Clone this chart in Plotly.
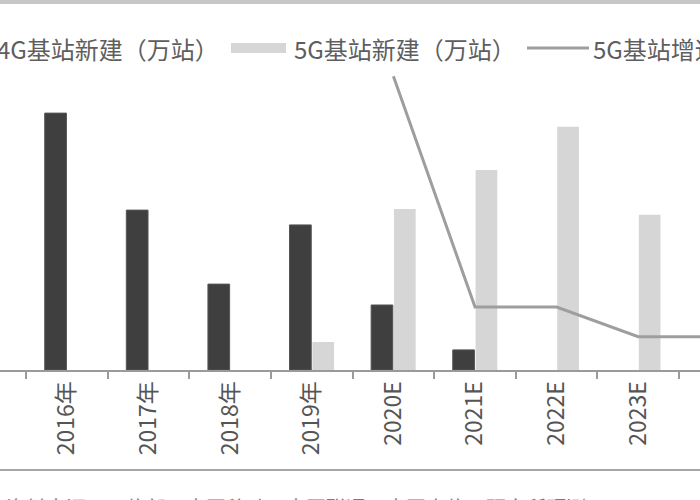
import plotly.graph_objects as go

# ---- data ----
categories = ["2016年", "2017年", "2018年", "2019年", "2020E", "2021E", "2022E", "2023E", "2024E"]
new_4g = [97.2, 60.5, 32.5, 54.9, 24.6, 7.6, None, None, None]          # 万站
new_5g = [None, None, None, 10.6, 60.9, 75.7, 92.0, 58.7, None]          # 万站
growth_cats = ["2020E", "2021E", "2022E", "2023E", "2024E"]
growth_5g = [397, 85, 85, 45, 45]                                        # %

legend_4g = "4G基站新建（万站）"
legend_5g = "5G基站新建（万站）"
legend_gr = "5G基站增速"
source_text = "资料来源：工信部，中国移动，中国联通，中国电信，研究所预测"

# ---- layout constants ----
W, H = 700, 500
PLOT_BOTTOM = 370  # pixel row of the x axis line
FONT = "Noto Sans CJK SC"
C4G = "#3f3f3f"
C5G = "#d6d6d6"
CLINE = "#9e9e9e"


def px_x(p):
    return p / W


def px_y(p):
    return (PLOT_BOTTOM - p) / PLOT_BOTTOM


fig = go.Figure()
fig.add_trace(go.Bar(x=categories, y=new_4g, name=legend_4g,
                     marker=dict(color=C4G, line=dict(color="#555555", width=1))))
fig.add_trace(go.Bar(x=categories, y=new_5g, name=legend_5g,
                     marker=dict(color=C5G, line=dict(width=0))))
fig.add_trace(go.Scatter(x=growth_cats, y=growth_5g, name=legend_gr, mode="lines",
                         line=dict(color=CLINE, width=3), yaxis="y2"))

shapes = [
    # top rule
    dict(type="rect", xref="paper", yref="paper", x0=0, x1=1, y0=px_y(4), y1=px_y(0),
         fillcolor="#c6c6c6", line=dict(width=0), layer="above"),
    # bottom rule
    dict(type="line", xref="paper", yref="paper", x0=0, x1=1, y0=px_y(470), y1=px_y(470),
         line=dict(color="#a6a6a6", width=2)),
    # legend symbols
    dict(type="rect", xref="paper", yref="paper", x0=px_x(231), x1=px_x(286),
         y0=px_y(53), y1=px_y(43), fillcolor=C5G, line=dict(width=0)),
    dict(type="line", xref="paper", yref="paper", x0=px_x(527), x1=px_x(589),
         y0=px_y(48), y1=px_y(48), line=dict(color=CLINE, width=3)),
]

LEG_FONT = dict(family=FONT, size=24, color="#5e5e5e")
annotations = [
    dict(text=legend_4g, x=px_x(-5), y=px_y(48), xref="paper", yref="paper",
         xanchor="left", yanchor="middle", showarrow=False, font=LEG_FONT),
    dict(text=legend_5g, x=px_x(292), y=px_y(48), xref="paper", yref="paper",
         xanchor="left", yanchor="middle", showarrow=False, font=LEG_FONT),
    dict(text=legend_gr, x=px_x(591), y=px_y(48), xref="paper", yref="paper",
         xanchor="left", yanchor="middle", showarrow=False, font=LEG_FONT),
    dict(text=source_text, x=px_x(4), y=px_y(491), xref="paper", yref="paper",
         xanchor="left", yanchor="top", showarrow=False,
         font=dict(family=FONT, size=20, color="#7a7a7a")),
]

fig.update_layout(
    width=W, height=H,
    margin=dict(l=0, r=0, t=0, b=H - PLOT_BOTTOM, pad=0, autoexpand=False),
    paper_bgcolor="white", plot_bgcolor="white",
    barmode="group", bargap=0.44, bargroupgap=0.05,
    showlegend=False,
    xaxis=dict(type="category", range=[-0.821, 7.757], showgrid=False, zeroline=False,
               showline=True, linecolor="#9a9a9a", linewidth=2,
               ticks="outside", ticklen=7, tickwidth=1.5, tickcolor="#9a9a9a",
               tickson="boundaries", tickangle=-90,
               tickfont=dict(family=FONT, size=23, color="#555555")),
    yaxis=dict(range=[0, 140], visible=False, showgrid=False, zeroline=False),
    yaxis2=dict(range=[0, 500], overlaying="y", side="right", visible=False,
                showgrid=False, zeroline=False),
    shapes=shapes,
    annotations=annotations,
)

fig.write_html("out.html",
               config={"displayModeBar": False},
               post_script="document.body.style.margin='0';document.body.style.overflow='hidden';")
